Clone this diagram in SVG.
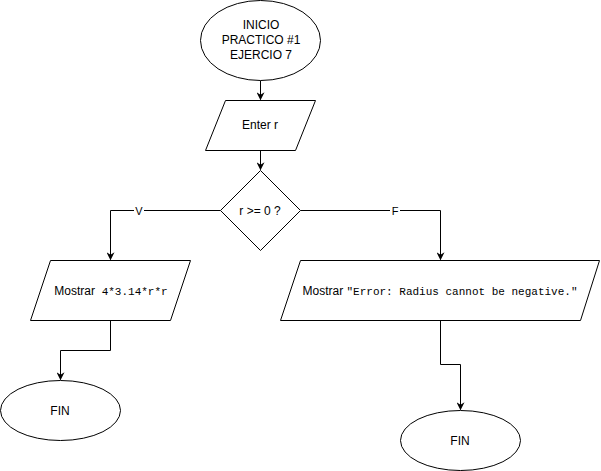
<svg xmlns="http://www.w3.org/2000/svg" width="601" height="471" viewBox="0 0 601 471">
<style>
.s{fill:#fff;stroke:#000;stroke-width:1}
.c{fill:none;stroke:#000;stroke-width:1}
.t{font-family:"Liberation Sans",Arial,sans-serif;font-size:12px;fill:#000;text-anchor:middle}
.m{font-family:"Liberation Mono","DejaVu Sans Mono",monospace;font-size:11px}
.lb{font-family:"Liberation Sans",Arial,sans-serif;font-size:11px;fill:#000;text-anchor:middle}
</style>
<defs>
<marker id="a" viewBox="0 0 10 10" refX="9" refY="5" markerWidth="8" markerHeight="8" markerUnits="userSpaceOnUse" orient="auto">
<path d="M0,0 L10,5 L0,10 L3,5 Z" fill="#000"/>
</marker>
</defs>
<rect width="601" height="471" fill="#fff"/>
<g id="connectors">
<path class="c" d="M260.5 80.5 V99.5" marker-end="url(#a)"/>
<path class="c" d="M260.5 150.5 V169.5" marker-end="url(#a)"/>
<path class="c" d="M220.5 210.5 H110.5 V259.5" marker-end="url(#a)"/>
<path class="c" d="M300.5 210.5 H440.5 V259.5" marker-end="url(#a)"/>
<path class="c" d="M110.5 320.5 V350.5 H60.5 V379.5" marker-end="url(#a)"/>
<path class="c" d="M440.5 320.5 V364.5 H460.5 V409.5" marker-end="url(#a)"/>
<rect x="134" y="204" width="10" height="13" fill="#fff"/>
<text class="lb" x="139" y="214.5">V</text>
<rect x="390" y="204" width="10" height="13" fill="#fff"/>
<text class="lb" x="395" y="214.5">F</text>
</g>
<g id="inicio">
<ellipse class="s" cx="260.5" cy="40.5" rx="60" ry="40"/>
<text class="t" x="261" y="29">INICIO</text>
<text class="t" x="261" y="44">PRACTICO #1</text>
<text class="t" x="261" y="59">EJERCIO 7</text>
</g>
<g id="enter">
<path class="s" d="M225.5 100.5 H315.5 L295.5 150.5 H205.5 Z"/>
<text class="t" x="260" y="129">Enter r</text>
</g>
<g id="decision">
<path class="s" d="M260.5 170.5 L300.5 210.5 L260.5 250.5 L220.5 210.5 Z"/>
<text class="t" x="260" y="214.5">r &gt;= 0 ?</text>
</g>
<g id="mostrar1">
<path class="s" d="M50.5 260.5 H190.5 L170.5 320.5 H30.5 Z"/>
<text class="t" x="111" y="294.5">Mostrar&#160; <tspan class="m">4*3.14*r*r</tspan></text>
</g>
<g id="mostrar2">
<path class="s" d="M300.5 260.5 H599.5 L580.5 320.5 H280.5 Z"/>
<text class="t" x="440" y="294.5">Mostrar <tspan class="m">"Error: Radius cannot be negative."</tspan></text>
</g>
<g id="fin1">
<ellipse class="s" cx="60.5" cy="410.5" rx="60" ry="30"/>
<text class="t" x="60" y="414.5">FIN</text>
</g>
<g id="fin2">
<ellipse class="s" cx="460.5" cy="440.5" rx="60" ry="30"/>
<text class="t" x="460" y="444.5">FIN</text>
</g>
</svg>
